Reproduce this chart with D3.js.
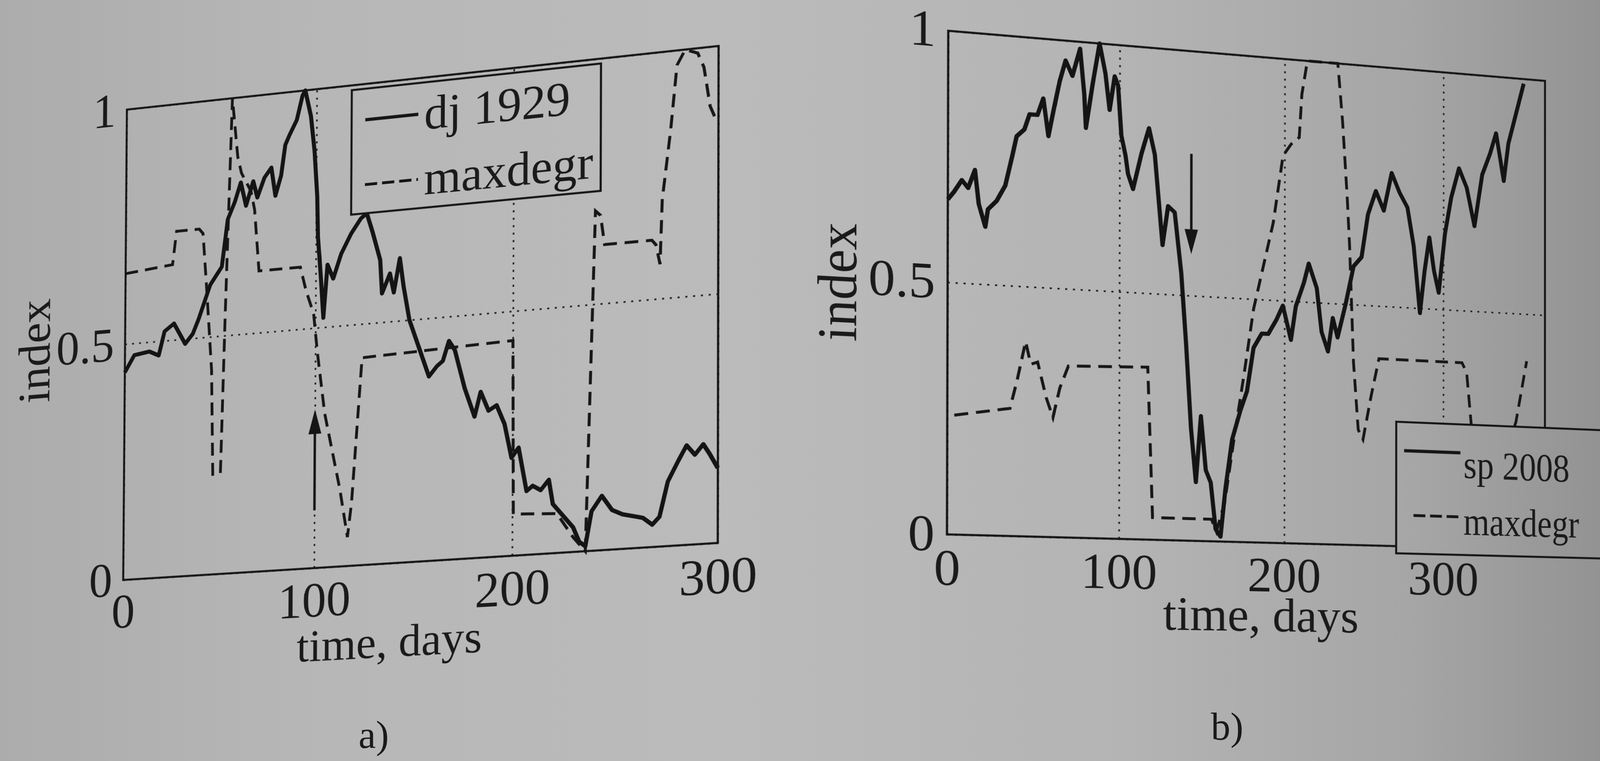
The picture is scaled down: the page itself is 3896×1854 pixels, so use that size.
<!DOCTYPE html>
<html>
<head>
<meta charset="utf-8">
<title>maxdegr vs index</title>
<script src="https://cdn.jsdelivr.net/npm/d3@7"></script>
<style>
  html, body { margin: 0; padding: 0; width: 3896px; height: 1854px; overflow: hidden; background: #b5b5b5; }
  svg { position: absolute; left: 0; top: 0; overflow: visible; }
  svg.panel { transform-origin: 0 0; }
  text { font-family: "Liberation Serif", "DejaVu Serif", serif; fill: #1a1a1a; }
</style>
</head>
<body>
<script>
const width = 3896, height = 1854;

// a) Dow Jones 1929 (day, normalised index)
const djDay = [0, 5, 13, 18, 21, 26, 32, 36, 39, 45, 51, 54, 57.6, 60.7, 63.5, 67.2, 69.4, 73, 76.6, 78.8,
  81.7, 83.8, 86, 89.7, 92.6, 94, 97, 99, 100.5, 101, 102.7, 104, 106, 109, 113, 118,
  123, 126, 129, 133, 134, 138, 140, 143, 145, 148, 153, 158, 162, 165, 168, 171, 176, 181, 184, 188,
  192, 196, 199.5, 203, 207, 210, 214, 218, 220, 225, 230, 233, 236, 239, 244, 249, 254, 259, 264, 268.5,
  272, 276, 281, 285, 289, 293, 296, 300];
const djIndex = [0.44, 0.475, 0.48, 0.47, 0.52, 0.535, 0.49, 0.51, 0.54, 0.61, 0.646, 0.745, 0.78, 0.82, 0.77, 0.82, 0.785, 0.825, 0.845, 0.785,
  0.826, 0.89, 0.91, 0.94, 0.99, 1.0, 0.945, 0.87, 0.775, 0.69, 0.6, 0.52, 0.63, 0.60, 0.65, 0.69,
  0.72, 0.73, 0.69, 0.63, 0.56, 0.60, 0.56, 0.63, 0.57, 0.50, 0.44, 0.38, 0.40, 0.41, 0.45, 0.43, 0.35, 0.29, 0.34, 0.30,
  0.31, 0.27, 0.20, 0.22, 0.13, 0.14, 0.13, 0.15, 0.10, 0.075, 0.05, 0.02, 0.01, 0.08, 0.11, 0.08, 0.07, 0.065, 0.06, 0.045,
  0.06, 0.13, 0.17, 0.20, 0.18, 0.20, 0.18, 0.15];
const mdADay = [0, 25, 27, 39, 41, 43, 46, 47, 51, 53, 56, 59, 61, 66, 68, 70.5, 92, 95, 99, 101,
  105, 109, 113, 117, 119, 122, 124, 200, 200.5, 222, 230, 236, 240.5, 243, 245, 268, 270, 272, 273, 277,
  280, 284, 290, 293, 296, 299];
const mdAVal = [0.65, 0.66, 0.73, 0.73, 0.72, 0.61, 0.43, 0.21, 0.21, 0.55, 1.0, 0.875, 0.84, 0.80, 0.76, 0.63, 0.63, 0.58, 0.53, 0.45,
  0.32, 0.24, 0.16, 0.06, 0.13, 0.31, 0.43, 0.44, 0.085, 0.08, 0.03, 0.0, 0.69, 0.68, 0.62, 0.62, 0.61, 0.57, 0.70, 0.84,
  0.97, 1.0, 0.99, 0.96, 0.88, 0.85];

// b) S&P 500 2008
const spDay = [0, 3.4, 8, 11.6, 15.5, 17.7, 21.5, 23, 28, 33, 37, 39.5, 44, 47, 51.6, 55, 58, 61, 64.6, 68,
  72, 76.5, 79, 80, 84, 88, 91.5, 94, 97, 99, 101, 103.5, 105, 108, 113, 117.5, 121, 125.7, 129, 133,
  137, 140, 143, 146, 149, 152, 155, 158, 161, 164, 168, 173, 177, 181, 186, 190, 195, 199, 204, 207,
  212, 215, 220, 223, 227, 230, 233, 238, 243, 248, 252, 257, 262, 267, 272, 277, 281, 285, 288, 291,
  294, 297, 301, 305, 310, 315, 320, 325, 330, 334, 339, 342, 347, 352];
const spIndex = [0.665, 0.68, 0.705, 0.69, 0.727, 0.66, 0.615, 0.65, 0.668, 0.70, 0.76, 0.80, 0.815, 0.846, 0.846, 0.88, 0.805, 0.858, 0.918, 0.96,
  0.93, 0.986, 0.895, 0.827, 0.918, 1.0, 0.94, 0.867, 0.936, 0.918, 0.817, 0.777, 0.74, 0.71, 0.783, 0.836, 0.783, 0.60, 0.68, 0.668,
  0.545, 0.40, 0.23, 0.12, 0.255, 0.145, 0.12, 0.025, 0.01, 0.11, 0.21, 0.27, 0.31, 0.40, 0.43, 0.43, 0.46, 0.49, 0.42, 0.49,
  0.54, 0.58, 0.53, 0.44, 0.40, 0.47, 0.43, 0.50, 0.58, 0.60, 0.69, 0.74, 0.70, 0.78, 0.74, 0.71, 0.63, 0.49, 0.58, 0.65,
  0.58, 0.535, 0.66, 0.737, 0.80, 0.76, 0.68, 0.79, 0.835, 0.88, 0.78, 0.86, 0.925, 0.99];
const mdBDay = [4, 36, 40, 45, 48, 52, 57, 61, 65, 70, 117, 120, 155.5, 158.5, 163.5, 169.5, 175, 181, 187, 193,
  199, 204, 209, 210.6, 214, 233, 236, 239, 240.5, 243, 246, 249, 254, 259, 312, 315, 318, 321, 340, 347, 354];
const mdBVal = [0.237, 0.255, 0.31, 0.39, 0.345, 0.35, 0.28, 0.24, 0.30, 0.345, 0.35, 0.045, 0.045, 0.02, 0.08, 0.22, 0.34, 0.48, 0.57, 0.66,
  0.80, 0.825, 0.84, 0.93, 1.0, 1.0, 0.88, 0.72, 0.62, 0.38, 0.24, 0.22, 0.31, 0.39, 0.39, 0.37, 0.26, 0.2, 0.2, 0.27, 0.40];

const xTicks = [0, 100, 200, 300];
const yTicks = [0, 0.5, 1];
const yTickLabels = ['0', '0.5', '1'];
const legendA = ['dj 1929', 'maxdegr'];
const legendB = ['sp 2008', 'maxdegr'];
const panelNames = ['a)', 'b)'];
// arrow marks: [day, tail value, head value]
const arrowA = [100, 0.12, 0.33];
const arrowB = [143, 0.79, 0.585];

// paper tone across the photographed page
const paper = [[0, '#acacac'], [0.2, '#b7b7b7'], [0.45, '#bbbbbb'], [0.7, '#b4b4b4'], [0.88, '#a6a6a6'], [1, '#939393']];

function addPaper(svg, id) {
  const g = svg.append('defs').append('linearGradient').attr('id', id)
    .attr('gradientUnits', 'userSpaceOnUse')
    .attr('x1', 0).attr('x2', width).attr('y1', 0).attr('y2', 0);
  g.selectAll('stop').data(paper).enter().append('stop')
    .attr('offset', d => d[0]).attr('stop-color', d => d[1]);
}

// 4 point projective map, local -> photo
function homography(src, dst) {
  const A = [], b = [];
  for (let i = 0; i < 4; i++) {
    const [x, y] = src[i], [u, v] = dst[i];
    A.push([x, y, 1, 0, 0, 0, -x * u, -y * u]); b.push(u);
    A.push([0, 0, 0, x, y, 1, -x * v, -y * v]); b.push(v);
  }
  for (let c = 0; c < 8; c++) {
    let p = c;
    for (let r = c + 1; r < 8; r++) if (Math.abs(A[r][c]) > Math.abs(A[p][c])) p = r;
    [A[c], A[p]] = [A[p], A[c]]; [b[c], b[p]] = [b[p], b[c]];
    for (let r = 0; r < 8; r++) {
      if (r === c) continue;
      const f = A[r][c] / A[c][c];
      for (let k = c; k < 8; k++) A[r][k] -= f * A[c][k];
      b[r] -= f * b[c];
    }
  }
  return b.map((v, i) => v / A[i][i]);
}

// photo point -> local point
function unmap(h, u, v) {
  const a = h[0] - h[6] * u, bb = h[1] - h[7] * u, c = u - h[2];
  const d = h[3] - h[6] * v, e = h[4] - h[7] * v, f = v - h[5];
  const det = a * e - bb * d;
  return [(c * e - bb * f) / det, (a * f - c * d) / det];
}

function grid(g) {
  g.attr('font-family', null).attr('font-size', 120);
  g.select('.domain').remove();
  g.selectAll('.tick line').attr('stroke', '#262626').attr('stroke-width', 4).attr('stroke-dasharray', '5 13');
  g.selectAll('.tick text').attr('fill', '#1a1a1a');
}

const bgSvg = d3.select('body').append('svg').attr('width', width).attr('height', height);
addPaper(bgSvg, 'paper0');
bgSvg.append('rect').attr('width', width).attr('height', height).attr('fill', 'url(#paper0)');

function drawPanel(o) {
  const [x0, y0, x1, y1] = o.box;
  const svg = d3.select('body').append('svg').attr('class', 'panel')
    .attr('width', width).attr('height', height);
  addPaper(svg, o.id);

  const h = homography([[x0, y0], [x1, y0], [x1, y1], [x0, y1]], o.photo);
  svg.style('transform', `matrix3d(${h[0]},${h[3]},0,${h[6]},${h[1]},${h[4]},0,${h[7]},0,0,1,0,${h[2]},${h[5]},0,1)`);

  const x = d3.scaleLinear().domain([0, o.xMax]).range([x0, x1]);
  const y = d3.scaleLinear().domain([0, 1]).range([y1, y0]);

  svg.append('g').attr('transform', `translate(0,${y1})`)
    .call(d3.axisBottom(x).tickValues(o.xTicks).tickFormat(d3.format('d'))
      .tickSize(-(y1 - y0)).tickPadding(34))
    .call(grid);
  svg.append('g').attr('transform', `translate(${x0},0)`)
    .call(d3.axisLeft(y).tickValues(yTicks).tickFormat((d, i) => yTickLabels[i])
      .tickSize(-(x1 - x0)).tickPadding(28))
    .call(grid);

  const line = d3.line().x(d => x(d[0])).y(d => y(d[1]));
  svg.append('path').datum(d3.zip(o.mdDay, o.mdVal)).attr('d', line)
    .attr('fill', 'none').attr('stroke', '#171717').attr('stroke-width', 7)
    .attr('stroke-dasharray', '32 18');
  svg.append('path').datum(d3.zip(o.day, o.val)).attr('d', line)
    .attr('fill', 'none').attr('stroke', '#141414').attr('stroke-width', 10)
    .attr('stroke-linejoin', 'round');

  // arrow
  const [ad, at, ah] = o.arrow;
  const ax = x(ad), tip = y(ah), dir = Math.sign(y(ah) - y(at));
  svg.append('line').attr('x1', ax).attr('x2', ax).attr('y1', y(at)).attr('y2', tip - dir * 40)
    .attr('stroke', '#151515').attr('stroke-width', 6);
  svg.append('path').attr('d', `M${ax},${tip}L${ax - 16},${tip - dir * 60}L${ax + 16},${tip - dir * 60}Z`)
    .attr('fill', '#151515');

  // frame
  svg.append('rect').attr('x', x0).attr('y', y0).attr('width', x1 - x0).attr('height', y1 - y0)
    .attr('fill', 'none').attr('stroke', '#151515').attr('stroke-width', 5);

  // legend
  const lg = svg.append('g');
  lg.append('rect').attr('x', x(o.legX[0])).attr('y', y(o.legY[1]))
    .attr('width', x(o.legX[1]) - x(o.legX[0])).attr('height', y(o.legY[0]) - y(o.legY[1]))
    .attr('fill', `url(#${o.id})`).attr('stroke', '#151515').attr('stroke-width', 5);
  o.legend.forEach((name, i) => {
    const r = o.legRows[i];
    lg.append('line').attr('x1', x(r[0])).attr('x2', x(r[1])).attr('y1', y(r[2])).attr('y2', y(r[2]))
      .attr('stroke', '#151515').attr('stroke-width', i ? 7 : 8)
      .attr('stroke-dasharray', i ? '30 12' : null);
    const t = lg.append('text').attr('x', x(r[3])).attr('y', y(r[4])).attr('dy', '0.33em')
      .attr('font-size', o.legSize).text(name);
    if (o.legLen) t.attr('textLength', o.legLen[i]).attr('lengthAdjust', 'spacingAndGlyphs');
  });

  // axis titles, anchored at photo positions
  const yl = unmap(h, o.yLabel[0], o.yLabel[1]);
  svg.append('text').attr('transform', `translate(${yl[0]},${yl[1]}) rotate(-90)`)
    .attr('text-anchor', 'middle').attr('font-size', o.yLabel[2]).text('index');
  const xl = unmap(h, o.xLabel[0], o.xLabel[1]);
  svg.append('text').attr('x', xl[0]).attr('y', xl[1])
    .attr('text-anchor', 'middle').attr('font-size', o.xLabel[2]).text('time, days');
}

drawPanel({
  id: 'paperA', box: [305, 190, 1749, 1368],
  photo: [[309, 267], [1750, 112], [1748, 1323], [300, 1413]],
  xMax: 300, xTicks: xTicks,
  day: djDay, val: djIndex, mdDay: mdADay, mdVal: mdAVal, arrow: arrowA,
  legend: legendA, legX: [118, 243], legY: [0.73, 0.99], legSize: 116,
  legRows: [[125, 152, 0.925, 155, 0.925], [125, 152, 0.79, 155, 0.79]],
  yLabel: [121, 853, 118], xLabel: [946, 1601, 110]
});

drawPanel({
  id: 'paperB', box: [2308, 136, 3761, 1323],
  photo: [[2309, 75], [3762, 197], [3762, 1340], [2306, 1302]],
  xMax: 366, xTicks: xTicks,
  day: spDay, val: spIndex, mdDay: mdBDay, mdVal: mdBVal, arrow: arrowB,
  legend: legendB, legX: [270, 425], legY: [-0.015, 0.26], legSize: 99,
  legLen: [275, 300],
  legRows: [[275, 311, 0.2, 313, 0.175], [281, 311, 0.065, 313, 0.055]],
  yLabel: [2085, 689, 124], xLabel: [3073, 1538, 116]
});

// panel captions
const cap = d3.select('body').append('svg').attr('width', width).attr('height', height);
cap.selectAll('text').data(panelNames).enter().append('text')
  .attr('x', (d, i) => [910, 2988][i]).attr('y', (d, i) => [1822, 1802][i])
  .attr('text-anchor', 'middle').attr('font-size', 95).text(d => d);
</script>
</body>
</html>
